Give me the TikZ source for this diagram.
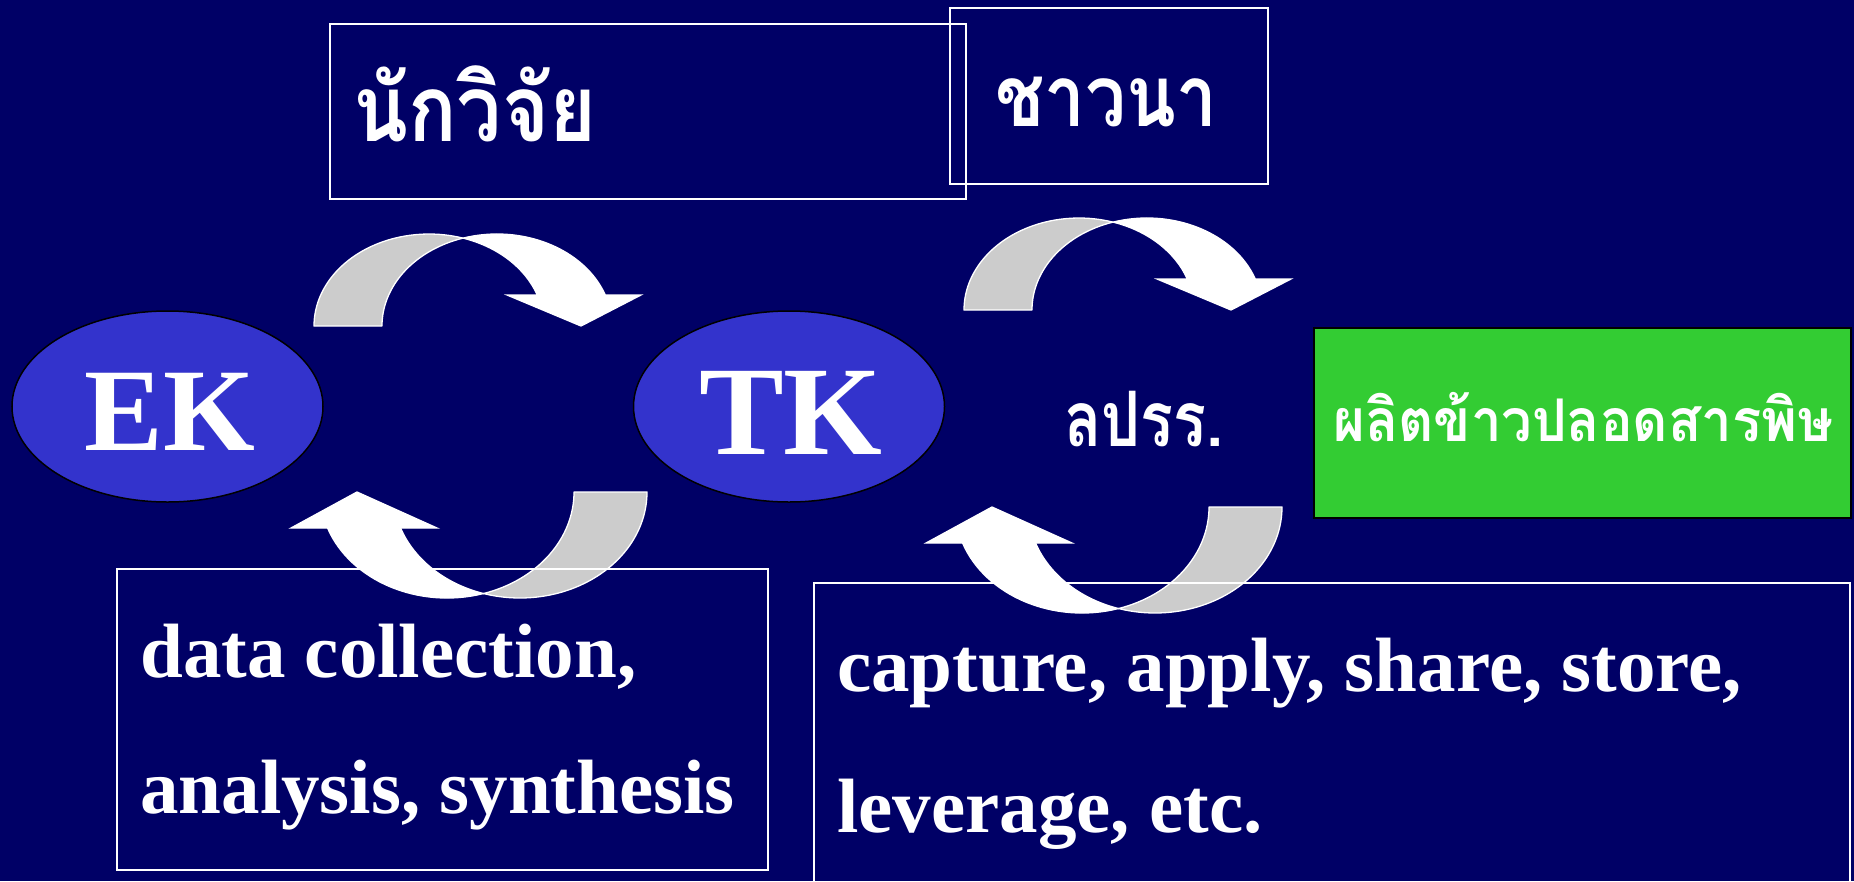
\documentclass[tikz,border=0pt]{standalone}
\usepackage{fontspec}
\setmainfont{Liberation Serif}
\newfontfamily\thaifont[Script=Thai]{Loma}
\usetikzlibrary{shapes.geometric}
\definecolor{navy}{HTML}{000066}
\definecolor{ellblue}{HTML}{3333CC}
\definecolor{grn}{HTML}{33CC33}
\definecolor{arrgray}{HTML}{CCCCCC}
\tikzset{
  arrgrayfill/.style={fill=arrgray, draw=white, line width=1.3pt, line join=round},
  arrwhitefill/.style={fill=white, draw=white, line width=1.3pt, line join=miter},
  wbox/.style={draw=white, line width=1.6pt, rectangle, inner sep=0pt, anchor=north west},
  kell/.style={ellipse, draw=black, fill=ellblue, line width=1.5pt, inner sep=0pt, minimum width=311pt, minimum height=191pt},
  txt/.style={text=white, inner sep=0pt, anchor=base west},
  bigtxt/.style={text=white, inner sep=0pt, anchor=base},
}
% #1 origin, #2 rotation, #3 R, #4 b, #5 t, #6 wing near, #7 tip, #8 wing far, #9 wing y
\newcommand{\myCurvedArrow}[9]{%
  \pgfmathsetmacro{\cA}{360-acos(#5/(2*#3))}%
  \pgfmathsetmacro{\cB}{180+acos(#5/(2*#3))}%
  \pgfmathsetmacro{\cW}{360-asin(-(#9)/#4)}%
  \begin{scope}[shift={(#1)}, rotate=#2]
    \filldraw[arrgrayfill] (0,0)
      arc[start angle=180, end angle=\cA, x radius=#3, y radius=#4]
      arc[start angle=\cB, end angle=180, x radius=#3, y radius=#4] -- cycle;
    \filldraw[arrwhitefill] ({#3+#3*cos(\cA)},{#4*sin(\cA)})
      arc[start angle=\cB, end angle=\cW, x radius=#3, y radius=#4]
      -- (#8,#9) -- (#7,0) -- (#6,#9) -- ({#3+#3*cos(\cW)},#9)
      arc[start angle=\cW, end angle=\cA, x radius=#3, y radius=#4] -- cycle;
  \end{scope}}
\newcommand{\thaitext}[3]{\scalebox{1}[#2]{\resizebox{#1}{!}{\thaifont\bfseries\fontsize{100}{100}\selectfont #3}}}
\begin{document}
\begin{tikzpicture}[x=1pt, y=-1pt]
\useasboundingbox (0,0) rectangle (1854,881);
\fill[navy] (0,0) rectangle (1854,881);

% curved arrows
\myCurvedArrow{314,326}{0}{115}{92}{68}{193}{267}{327}{-31}
\myCurvedArrow{964,310}{0}{115}{92}{68}{193}{267}{327}{-31}
\myCurvedArrow{647,492}{180}{127}{106}{73}{210}{290}{356}{-36}
\myCurvedArrow{1282,507}{180}{127}{106}{73}{210}{290}{356}{-36}

% boxes
\node[wbox, minimum width=636pt, minimum height=175pt] (researcher) at (329,23) {};
\node[wbox, minimum width=318pt, minimum height=176pt] (farmer) at (949,7) {};
\node[wbox, minimum width=651pt, minimum height=301pt] (databox) at (116,568) {};
\node[wbox, minimum width=1036pt, minimum height=330pt] (capbox) at (813,582) {};
\node[draw=black, fill=grn, line width=2pt, rectangle, inner sep=0pt, anchor=north west,
      minimum width=537pt, minimum height=190pt] (rice) at (1313,327) {};

% ellipses
\node[kell] (ek) at (167.5,406.5) {};
\node[kell] (tk) at (789,406.5) {};
\node[bigtxt, font=\bfseries\fontsize{118}{118}\selectfont] (ektxt) at (170,450) {EK};
\node[bigtxt, font=\bfseries\fontsize{127}{127}\selectfont] (tktxt) at (791,454) {TK};

% Thai texts
\node[txt] (restxt) at (353,141) {\thaitext{243pt}{1.15}{นักวิจัย}};
\node[txt] (farmtxt) at (995,126) {\thaitext{222pt}{1.17}{ชาวนา}};
\node[txt] (lptxt) at (1064,446) {\thaitext{159pt}{1.25}{ลปรร.}};
\node[txt] (ricetxt) at (1333,441) {\thaitext{500pt}{1.08}{ผลิตข้าวปลอดสารพิษ}};

% English texts
\node[txt, font=\bfseries\fontsize{77}{77}\selectfont] (dc1) at (140,677) {data collection,};
\node[txt, font=\bfseries\fontsize{77}{77}\selectfont] (dc2) at (140,813) {analysis, synthesis};
\node[txt, font=\bfseries\fontsize{77}{77}\selectfont] (cp1) at (837,691) {capture, apply, share, store,};
\node[txt, font=\bfseries\fontsize{77}{77}\selectfont] (cp2) at (837,832) {leverage, etc.};
\end{tikzpicture}
\end{document}
